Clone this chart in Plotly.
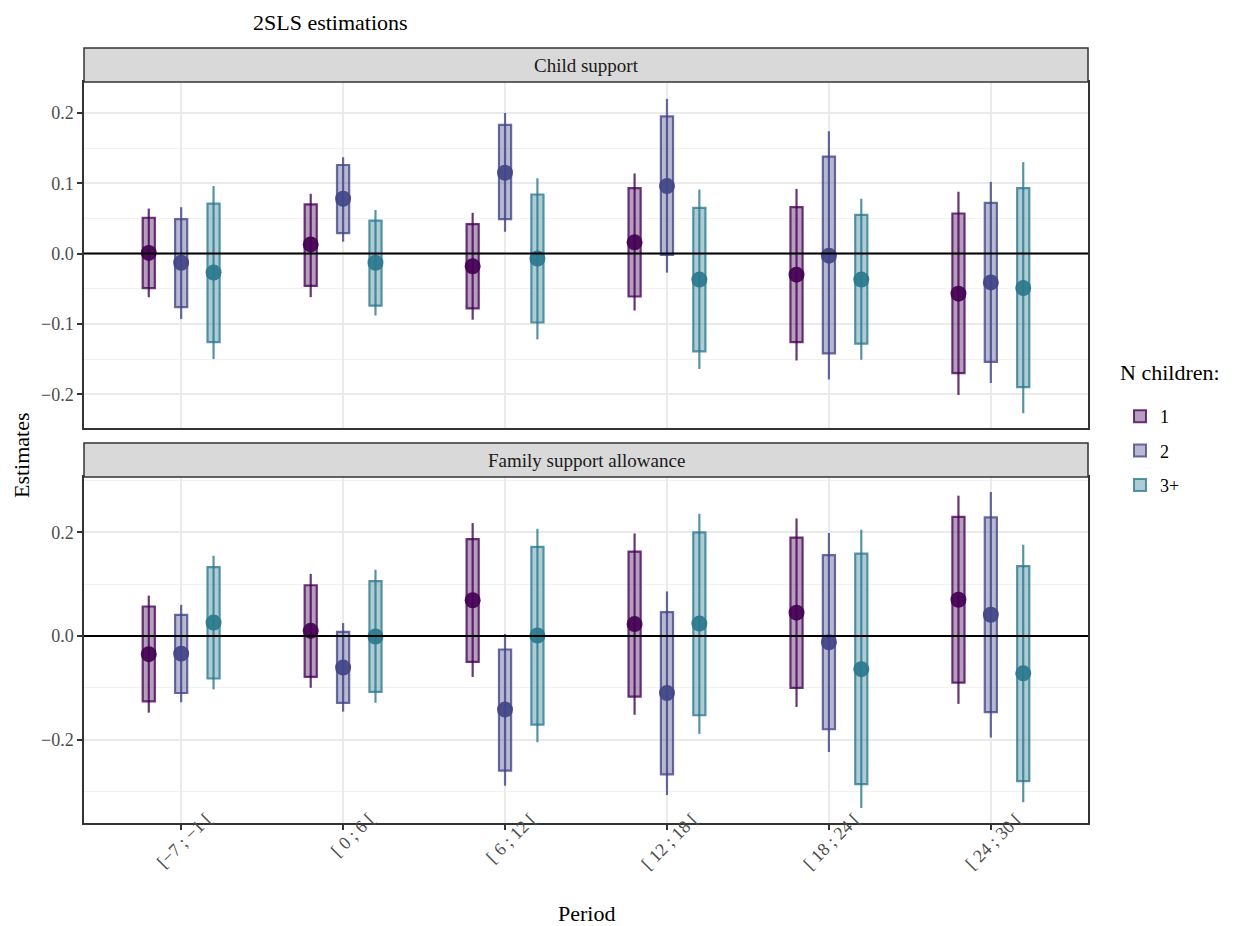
import plotly.graph_objects as go
from plotly.subplots import make_subplots

# ---------------- data ----------------
periods = ["[\u22127 ; \u22121 [", "[ 0 ; 6 [", "[ 6 ; 12 [", "[ 12 ; 18 [", "[ 18 ; 24 [", "[ 24 ; 30 ["]
groups = ["1", "2", "3+"]
panels = ["Child support", "Family support allowance"]

# Child support
cs_1_est = [0.001, 0.013, -0.018, 0.016, -0.030, -0.057]
cs_1_box_lo = [-0.049, -0.046, -0.078, -0.061, -0.126, -0.170]
cs_1_box_hi = [0.051, 0.070, 0.042, 0.093, 0.066, 0.057]
cs_1_ci_lo = [-0.062, -0.062, -0.094, -0.081, -0.152, -0.201]
cs_1_ci_hi = [0.064, 0.085, 0.058, 0.114, 0.092, 0.088]

cs_2_est = [-0.013, 0.078, 0.115, 0.096, -0.003, -0.041]
cs_2_box_lo = [-0.076, 0.029, 0.049, -0.002, -0.142, -0.154]
cs_2_box_hi = [0.049, 0.126, 0.183, 0.195, 0.138, 0.072]
cs_2_ci_lo = [-0.093, 0.017, 0.031, -0.027, -0.179, -0.184]
cs_2_ci_hi = [0.066, 0.137, 0.200, 0.220, 0.174, 0.102]

cs_3_est = [-0.027, -0.013, -0.007, -0.037, -0.037, -0.049]
cs_3_box_lo = [-0.126, -0.074, -0.098, -0.139, -0.128, -0.190]
cs_3_box_hi = [0.071, 0.047, 0.084, 0.065, 0.055, 0.093]
cs_3_ci_lo = [-0.150, -0.088, -0.122, -0.164, -0.151, -0.227]
cs_3_ci_hi = [0.096, 0.062, 0.107, 0.091, 0.078, 0.130]

# Family support allowance
fs_1_est = [-0.035, 0.010, 0.069, 0.023, 0.045, 0.070]
fs_1_box_lo = [-0.126, -0.079, -0.050, -0.117, -0.100, -0.090]
fs_1_box_hi = [0.057, 0.098, 0.187, 0.163, 0.190, 0.230]
fs_1_ci_lo = [-0.148, -0.100, -0.079, -0.152, -0.137, -0.131]
fs_1_ci_hi = [0.078, 0.120, 0.218, 0.198, 0.227, 0.271]

fs_2_est = [-0.034, -0.061, -0.142, -0.110, -0.012, 0.041]
fs_2_box_lo = [-0.110, -0.129, -0.260, -0.267, -0.180, -0.147]
fs_2_box_hi = [0.041, 0.008, -0.026, 0.046, 0.156, 0.229]
fs_2_ci_lo = [-0.128, -0.146, -0.289, -0.307, -0.224, -0.196]
fs_2_ci_hi = [0.060, 0.025, 0.004, 0.086, 0.199, 0.278]

fs_3_est = [0.026, -0.001, 0.001, 0.024, -0.064, -0.072]
fs_3_box_lo = [-0.082, -0.108, -0.171, -0.153, -0.286, -0.280]
fs_3_box_hi = [0.133, 0.106, 0.172, 0.200, 0.159, 0.135]
fs_3_ci_lo = [-0.103, -0.129, -0.205, -0.189, -0.332, -0.321]
fs_3_ci_hi = [0.155, 0.128, 0.207, 0.236, 0.205, 0.176]

panel_data = [
    [(cs_1_est, cs_1_box_lo, cs_1_box_hi, cs_1_ci_lo, cs_1_ci_hi),
     (cs_2_est, cs_2_box_lo, cs_2_box_hi, cs_2_ci_lo, cs_2_ci_hi),
     (cs_3_est, cs_3_box_lo, cs_3_box_hi, cs_3_ci_lo, cs_3_ci_hi)],
    [(fs_1_est, fs_1_box_lo, fs_1_box_hi, fs_1_ci_lo, fs_1_ci_hi),
     (fs_2_est, fs_2_box_lo, fs_2_box_hi, fs_2_ci_lo, fs_2_ci_hi),
     (fs_3_est, fs_3_box_lo, fs_3_box_hi, fs_3_ci_lo, fs_3_ci_hi)],
]

# ---------------- style ----------------
rgb = [(68, 1, 84), (65, 68, 135), (42, 120, 142)]
dodge = 0.2
box_width = 0.075
FONT = "Liberation Serif, Times New Roman, serif"

def rgba(c, a):
    return f"rgba({c[0]},{c[1]},{c[2]},{a})"

fig = make_subplots(rows=2, cols=1, shared_xaxes=True, vertical_spacing=0.0)

cat_idx = list(range(1, len(periods) + 1))

for p, pdata in enumerate(panel_data):
    row = p + 1
    for g, (est, blo, bhi, clo, chi) in enumerate(pdata):
        xs = [i + (g - 1) * dodge for i in cat_idx]
        c = rgb[g]
        fig.add_trace(go.Bar(
            x=xs, base=blo, y=[h - l for h, l in zip(bhi, blo)], width=box_width,
            marker=dict(color=rgba(c, 0.38), line=dict(color=rgba(c, 0.78), width=2.2)),
            name=groups[g], legendgroup=groups[g], showlegend=(p == 0),
            hoverinfo="skip"), row=row, col=1)
        fig.add_trace(go.Scatter(
            x=xs, y=est, mode="markers",
            marker=dict(size=16, color=rgba(c, 0.92), line=dict(width=0)),
            error_y=dict(type="data", symmetric=False,
                         array=[h - e for h, e in zip(chi, est)],
                         arrayminus=[e - l for e, l in zip(est, clo)],
                         color=rgba(c, 0.8), thickness=2.2, width=0),
            name=groups[g], legendgroup=groups[g], showlegend=False), row=row, col=1)
    fig.add_hline(y=0, line=dict(color="black", width=2), row=row, col=1, layer="above")

# layout geometry: the page adds an 8 px body margin, so compensate
OFF = 8
W, H = 1236 - OFF, 926 - OFF
PL, PR, PT, PB = 84, 1088, 48, 823          # plot area in reference pixels
ml, mt = PL - OFF, PT - OFF
mr, mb = W - (PR - OFF), H - (PB - OFF)
ph = H - mt - mb
pw = W - ml - mr

def py(pix):
    return (PB - pix) / ph

def px(pix):
    return (pix - PL) / pw

dom1 = [py(428), py(82)]
dom2 = [0, py(477)]
strips = [(py(82), py(48)), (py(477), py(443))]

axis_common = dict(showline=True, mirror=True, linecolor="#333333", linewidth=1.5,
                   gridcolor="#EBEBEB", gridwidth=1.6, zeroline=False,
                   tickfont=dict(family=FONT, size=18, color="#4D4D4D"))

fig.update_layout(
    width=W, height=H, barmode="overlay",
    paper_bgcolor="white", plot_bgcolor="white",
    margin=dict(l=ml, r=mr, t=mt, b=mb, autoexpand=False),
    font=dict(family=FONT, color="black"),
    legend=dict(x=px(1120), xanchor="left", y=py(398), yanchor="top",
                font=dict(family=FONT, size=18), itemsizing="constant",
                bgcolor="rgba(0,0,0,0)", tracegroupgap=8),
    xaxis=dict(range=[0.4, len(periods) + 0.6], tickvals=cat_idx, ticktext=periods,
               ticks="", showticklabels=False, **axis_common),
    xaxis2=dict(range=[0.4, len(periods) + 0.6], tickvals=cat_idx, ticktext=periods,
                ticks="outside", ticklen=5, tickcolor="#333333", tickwidth=1.5,
                showticklabels=False, **axis_common),
    yaxis=dict(domain=dom1, range=[-0.248, 0.244], tickvals=[-0.2, -0.1, 0, 0.1, 0.2],
               ticktext=["\u22120.2", "\u22120.1", "0.0", "0.1", "0.2"],
               ticks="outside", ticklen=5, tickcolor="#333333", tickwidth=1.5,
               minor=dict(dtick=0.05, tick0=0, showgrid=True, gridcolor="#F2F2F2", gridwidth=1),
               **axis_common),
    yaxis2=dict(domain=dom2, range=[-0.361, 0.307], tickvals=[-0.2, 0, 0.2],
                ticktext=["\u22120.2", "0.0", "0.2"],
                ticks="outside", ticklen=5, tickcolor="#333333", tickwidth=1.5,
                minor=dict(dtick=0.1, tick0=0, showgrid=True, gridcolor="#F2F2F2", gridwidth=1),
                **axis_common),
)

# chart title
fig.add_annotation(text="2SLS estimations", xref="paper", yref="paper", x=px(252), y=py(9),
                   showarrow=False, xanchor="left", yanchor="top", borderpad=0,
                   font=dict(family=FONT, size=22, color="black"))

# rotated x tick labels (ggplot style, angle 45, right-justified)
for i, lab in zip(cat_idx, periods):
    fig.add_annotation(text=lab, xref="x2", yref="paper", x=i, y=py(806),
                       xshift=38, textangle=-45, showarrow=False,
                       xanchor="right", yanchor="top",
                       font=dict(family=FONT, size=18, color="#4D4D4D"))

# facet strips
for (y0, y1), label in zip(strips, panels):
    fig.add_shape(type="rect", xref="paper", yref="paper", x0=0, x1=1, y0=y0, y1=y1,
                  fillcolor="#D9D9D9", line=dict(color="#333333", width=1.5), layer="above")
    fig.add_annotation(text=label, xref="paper", yref="paper", x=0.5, y=(y0 + y1) / 2,
                       showarrow=False, xanchor="center", yanchor="middle",
                       font=dict(family=FONT, size=19, color="#1A1A1A"))

# legend title
fig.add_annotation(text="N children:", xref="paper", yref="paper", x=px(1118), y=py(373),
                   showarrow=False, xanchor="left", yanchor="middle",
                   font=dict(family=FONT, size=22, color="black"))

# axis titles
fig.add_annotation(text="Estimates", xref="paper", yref="paper", x=px(21),
                   y=py(455), textangle=-90, showarrow=False, xanchor="center", yanchor="middle",
                   font=dict(family=FONT, size=22, color="black"))
fig.add_annotation(text="Period", xref="paper", yref="paper", x=px(586), y=py(913),
                   showarrow=False, xanchor="center", yanchor="middle",
                   font=dict(family=FONT, size=22, color="black"))

fig.write_html("out.html")
